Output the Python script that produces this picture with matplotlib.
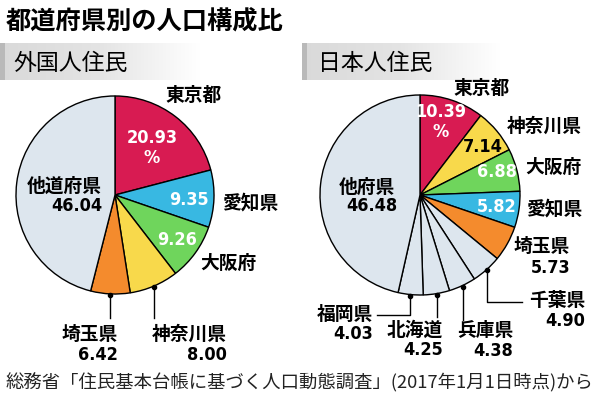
import numpy as np
import matplotlib
matplotlib.use("Agg")
import matplotlib.pyplot as plt
from matplotlib.colors import LinearSegmentedColormap
from matplotlib import font_manager

# data (percent)
foreign_names = ["東京都", "愛知県", "大阪府", "神奈川県", "埼玉県", "他道府県"]
foreign_values = [20.93, 9.35, 9.26, 8.00, 6.42, 46.04]

japanese_names = ["東京都", "神奈川県", "大阪府", "愛知県", "埼玉県",
                  "千葉県", "兵庫県", "北海道", "福岡県", "他府県"]
japanese_values = [10.39, 7.14, 6.88, 5.82, 5.73, 4.90, 4.38, 4.25, 4.03, 46.48]

TITLE = "都道府県別の人口構成比"
PANEL_TITLES = ["外国人住民", "日本人住民"]
SOURCE = "総務省「住民基本台帳に基づく人口動態調査」(2017年1月1日時点)から"

COLORS = {
    "東京都": "#d81b52",
    "愛知県": "#38b8e2",
    "大阪府": "#6fd55c",
    "神奈川県": "#f8d94b",
    "埼玉県": "#f48b2d",
}
OTHER = "#dde6ee"

W, H = 600, 399
JP = ["Noto Sans CJK JP"]

# a narrow face for the numbers, if one is there
names = {f.name for f in font_manager.fontManager.ttflist}
condensed = [f for f in font_manager.fontManager.ttflist
             if f.name == "DejaVu Sans" and "ondensed" in f.fname]
if "Liberation Sans Narrow" in names:
    NUM = dict(family=["Liberation Sans Narrow"], fontsize=15)
elif condensed:
    NUM = dict(family=["DejaVu Sans"], fontstretch="condensed", fontsize=13)
else:
    NUM = dict(family=["Liberation Sans"], fontsize=13)

fig = plt.figure(figsize=(6, 3.99), dpi=100)
fig.patch.set_facecolor("white")


def draw_pie(cx, cy, r, names, values):
    ax = fig.add_axes([(cx - r) / W, (H - cy - r) / H, 2 * r / W, 2 * r / H])
    cols = [COLORS.get(n, OTHER) for n in names]
    ax.pie(values, colors=cols, startangle=90, counterclock=False,
           wedgeprops=dict(edgecolor="black", linewidth=1.0))
    ax.set_xlim(-1.01, 1.01)
    ax.set_ylim(-1.01, 1.01)
    ax.axis("off")


def edge_point(cx, cy, r, values, idx):
    # point on the rim at the middle of wedge idx (clockwise from the top, y down)
    cum = np.cumsum([0] + list(values))
    a = (cum[idx] + values[idx] / 2) / sum(values) * 2 * np.pi
    return cx + r * np.sin(a), cy - r * np.cos(a)


L = (115, 195, 100)
R = (420, 195, 101)
draw_pie(*L, foreign_names, foreign_values)
draw_pie(*R, japanese_names, japanese_values)

ov = fig.add_axes([0, 0, 1, 1], zorder=10)
ov.set_xlim(0, W)
ov.set_ylim(H, 0)
ov.axis("off")
ov.patch.set_alpha(0)

# header bands, gray fading to white
band = LinearSegmentedColormap.from_list("band", ["#d9d9d9", "#e4e4e4", "#ffffff"])
grad = np.linspace(0, 1, 256).reshape(1, -1)
for x0, x1 in [(0, 200), (302, 500)]:
    ov.imshow(grad, cmap=band, extent=[x0, x1, 80, 43], aspect="auto", zorder=1)
    ov.fill_between([x0, x0 + 5], 43, 80, color="#b9b9b9", lw=0, zorder=2)
ov.set_xlim(0, W)
ov.set_ylim(H, 0)

ov.text(6, 21, TITLE, fontsize=18.2, fontweight="bold", family=JP,
        ha="left", va="center")
ov.text(13, 63, PANEL_TITLES[0], fontsize=16.5, family=JP, ha="left", va="center", zorder=3)
ov.text(318, 63, PANEL_TITLES[1], fontsize=16.5, family=JP, ha="left", va="center", zorder=3)
ov.text(6, 383, SOURCE, fontsize=13.2, family=JP, ha="left", va="center", color="#222222")


def name_label(x, y, s, ha="center"):
    ov.text(x, y, s, fontsize=13.5, fontweight="bold", family=JP, ha=ha, va="center")


def num_label(x, y, s, color="black", ha="center"):
    ov.text(x, y, s, fontweight="bold", ha=ha, va="center",
            color=color, linespacing=1.15, **NUM)


def fmt(v):
    return f"{v:.2f}"


# ---- foreign residents
fv = dict(zip(foreign_names, foreign_values))
name_label(194, 95, "東京都")
num_label(152, 148, fmt(fv["東京都"]) + "\n%", color="white")
num_label(189, 200, fmt(fv["愛知県"]), color="white")
name_label(250, 203, "愛知県")
num_label(177, 240, fmt(fv["大阪府"]), color="white")
name_label(228, 263, "大阪府")
name_label(102, 186, "他道府県", ha="right")
num_label(102, 206, fmt(fv["他道府県"]), ha="right")

for name, bottom, xr in [("埼玉県", 318, 118), ("神奈川県", 318, 227)]:
    px, py = edge_point(*L, foreign_values, foreign_names.index(name))
    ov.plot([px, px], [py, bottom], color="black", lw=1)
    ov.plot(px, py, "o", color="black", ms=3)
    name_label(xr, 334, name, ha="right")
    num_label(xr, 355, fmt(fv[name]), ha="right")

# ---- Japanese residents
jv = dict(zip(japanese_names, japanese_values))
name_label(482, 88, "東京都")
num_label(441, 122, fmt(jv["東京都"]) + "\n%", color="white")
name_label(544, 126, "神奈川県")
num_label(483, 147, fmt(jv["神奈川県"]))
name_label(553, 167, "大阪府")
num_label(497, 172, fmt(jv["大阪府"]), color="white")
name_label(554, 209, "愛知県")
num_label(497, 207, fmt(jv["愛知県"]), color="white")
name_label(542, 247, "埼玉県")
num_label(570, 268, fmt(jv["埼玉県"]), ha="right")
name_label(395, 187, "他府県", ha="right")
num_label(397, 206, fmt(jv["他府県"]), ha="right")

# leader lines: (name, bottom of vertical, horizontal end or None, label right x, label y)
leaders = [
    ("千葉県", 302, 522, 585, 301),
    ("兵庫県", 320, None, 513, 331),
    ("北海道", 317, None, 443, 330),
    ("福岡県", 315, 377, 373, 314),
]
for name, bottom, hx, xr, ly in leaders:
    px, py = edge_point(*R, japanese_values, japanese_names.index(name))
    xs, ys = [px, px], [py, bottom]
    if hx is not None:
        xs.append(hx)
        ys.append(bottom)
    ov.plot(xs, ys, color="black", lw=1)
    ov.plot(px, py, "o", color="black", ms=3)
    name_label(xr, ly, name, ha="right")
    num_label(xr, ly + 20, fmt(jv[name]), ha="right")

fig.savefig("out.png", dpi=100, facecolor="white")
